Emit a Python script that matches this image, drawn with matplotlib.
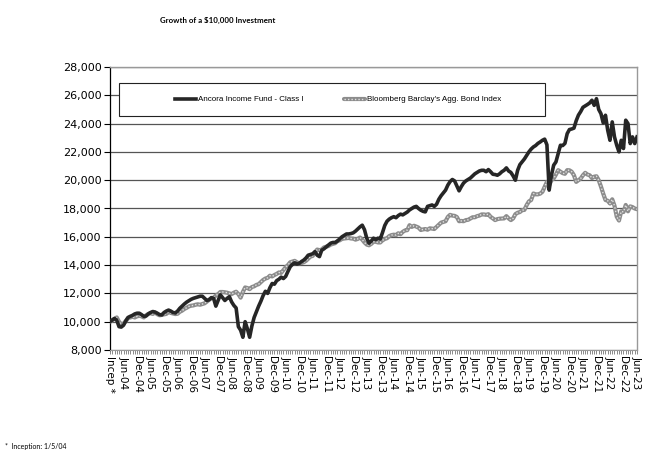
import matplotlib
matplotlib.use("Agg")
import matplotlib.pyplot as plt
from matplotlib.ticker import MultipleLocator, FuncFormatter
from matplotlib.legend_handler import HandlerTuple
from matplotlib.patches import Rectangle

title = "Growth of a \\$10,000 Investment"
footnote = "*  Inception: 1/5/04"
fund_name = "Ancora Income Fund - Class I"
bond_name = "Bloomberg Barclay's Agg. Bond Index"

# x tick labels: inception then every 6 months
tick_labels = ["Incep *"] + [f"{m}-{y:02d}" for y in range(4, 24) for m in ("Jun", "Dec")][:39]

# Monthly values: Incep, Jan-04 ... Jun-23
fund = [10000,
    10120, 10230, 10100, 9650, 9620, 9750, 10050, 10300, 10380, 10450, 10550, 10600,
    10600, 10500, 10380, 10400, 10550, 10650, 10720, 10680, 10600, 10500, 10480, 10650,
    10750, 10820, 10750, 10650, 10620, 10750, 10950, 11100, 11250, 11380, 11480, 11580,
    11650, 11700, 11750, 11800, 11800, 11650, 11500, 11550, 11700, 11650, 11100, 11500,
    11900, 11700, 11500, 11650, 11770, 11400, 11150, 10970, 9650, 9400, 8900, 10000,
    9500, 8900, 9700, 10300, 10700, 11100, 11450, 11850, 12150, 12000, 12400, 12700,
    12650, 12900, 13000, 13150, 13050, 13200, 13550, 13880, 14050, 14160, 14080, 14120,
    14250, 14350, 14500, 14700, 14750, 14800, 14950, 14700, 14600, 15050, 15150, 15280,
    15400, 15550, 15600, 15600, 15700, 15850, 16000, 16100, 16200, 16200, 16230, 16280,
    16400, 16550, 16700, 16820, 16500, 15900, 15550, 15700, 15900, 15800, 15900, 15850,
    16300, 16800, 17100, 17250, 17350, 17420, 17350, 17500, 17600, 17550, 17650, 17750,
    17900, 18000, 18100, 18150, 18000, 17880, 17800, 17760, 18150, 18200, 18250, 18150,
    18300, 18650, 18900, 19100, 19300, 19650, 19900, 20050, 19950, 19600, 19250, 19550,
    19800, 19950, 20050, 20150, 20300, 20450, 20550, 20650, 20700, 20700, 20600, 20750,
    20600, 20420, 20400, 20350, 20450, 20600, 20700, 20870, 20650, 20550, 20300, 20000,
    20700, 21100, 21300, 21500, 21750, 22000, 22200, 22350, 22450, 22600, 22700, 22820,
    22900, 22500, 19300, 20350, 21060, 21290, 21880, 22470, 22450, 22600, 23290, 23580,
    23620, 23680, 24200, 24600, 24850, 25150, 25250, 25350, 25460, 25650, 25290, 25760,
    25000, 24700, 24050, 24590, 23530, 22820, 24120, 23060, 22470, 22000, 22820, 22240,
    24240, 24000, 22590, 23060, 22590, 23060]

bond = [10000,
    10100, 10200, 10300, 10000, 9800, 9850, 10050, 10250, 10300, 10350, 10300, 10380,
    10420, 10380, 10300, 10450, 10550, 10600, 10550, 10650, 10530, 10450, 10480, 10520,
    10550, 10700, 10620, 10580, 10540, 10560, 10700, 10780, 10900, 10980, 11080, 11130,
    11150, 11200, 11230, 11200, 11250, 11300, 11420, 11550, 11650, 11700, 11850, 11950,
    12100, 12100, 12080, 12050, 12000, 11950, 12050, 12120, 11950, 11700, 12100, 12420,
    12380, 12300, 12450, 12500, 12600, 12650, 12800, 12950, 13050, 13100, 13250, 13200,
    13300, 13380, 13480, 13450, 13650, 13850, 14000, 14200, 14250, 14300, 14200, 14120,
    14150, 14200, 14300, 14450, 14600, 14650, 14900, 15100, 15050, 15100, 15250, 15300,
    15350, 15450, 15500, 15550, 15700, 15750, 15850, 15880, 15900, 15920, 15880, 15870,
    15800, 15850, 15950, 15800, 15600, 15450, 15400, 15500, 15650, 15650, 15600, 15600,
    15750, 15850, 15900, 16050, 16120, 16150, 16120, 16250, 16180, 16350, 16450, 16470,
    16820, 16700, 16780, 16720, 16650, 16480, 16520, 16550, 16500, 16600, 16580, 16550,
    16700, 16850, 17000, 17050, 17100, 17400, 17550, 17500, 17480, 17400, 17100, 17120,
    17100, 17180, 17200, 17290, 17380, 17380, 17460, 17500, 17580, 17580, 17550, 17600,
    17410, 17300, 17180, 17250, 17280, 17290, 17300, 17460, 17300, 17180, 17300, 17600,
    17700, 17750, 17880, 17900, 18240, 18500, 18600, 19060, 19000, 19000, 19050, 19180,
    19530, 19880, 19650, 20000, 20120, 20400, 20710, 20600, 20500, 20450, 20710, 20700,
    20600, 20350, 19880, 20000, 20120, 20350, 20520, 20400, 20350, 20150, 20250, 20280,
    20000, 19550, 19050, 18600, 18550, 18350, 18650, 18200, 17420, 17150, 17800, 17750,
    18250, 17800, 18150, 18100, 18000, 17950]

x = list(range(len(fund)))

W, H = 660, 467
fig = plt.figure(figsize=(6.6, 4.67), dpi=100)
ax_l, ax_b, ax_w, ax_h = 110, 117, 527, 283
ax = fig.add_axes([ax_l/W, ax_b/H, ax_w/W, ax_h/H])

ax.set_xlim(0, len(fund) - 1)
ax.set_ylim(8000, 28000)
ax.yaxis.set_major_locator(MultipleLocator(2000))
ax.yaxis.set_major_formatter(FuncFormatter(lambda v, p: f"{int(v):,}"))
ax.grid(axis="y", color="#555555", linewidth=0.9)
ax.set_axisbelow(True)

ax.set_xticks(list(range(0, len(fund), 6)))
ax.set_xticklabels(tick_labels, rotation=-90, fontsize=7.5, family="DejaVu Sans")
ax.xaxis.set_minor_locator(MultipleLocator(1))
ax.tick_params(axis="x", which="both", direction="out", length=3, width=0.6, color="#777777", pad=1)
ax.tick_params(axis="y", direction="out", length=4, width=0.8, labelsize=8, pad=2)

for s in ("top", "right"):
    ax.spines[s].set_color("#999999")
    ax.spines[s].set_linewidth(1.0)
ax.spines["bottom"].set_color("#999999")
ax.spines["left"].set_color("#000000")
ax.spines["left"].set_linewidth(0.9)

b1, = ax.plot(x, bond, color="#8c8c8c", linewidth=3.0, solid_capstyle="round", zorder=3)
b2, = ax.plot(x, bond, color="#e0e0e0", linewidth=1.0, linestyle=(0, (1, 1.5)), zorder=3.1)
f1, = ax.plot(x, fund, color="#262626", linewidth=2.6, solid_joinstyle="round", zorder=4)

# legend box (pixel coords of reference: x 119-545, y 83-116 from top)
bx0 = (119 - ax_l) / ax_w
bx1 = (545 - ax_l) / ax_w
by0 = (H - 116 - ax_b) / ax_h
by1 = (H - 83 - ax_b) / ax_h
ax.add_patch(Rectangle((bx0, by0), bx1 - bx0, by1 - by0, transform=ax.transAxes,
                       facecolor="white", edgecolor="#222222", linewidth=0.8, zorder=5))
leg = ax.legend([f1, (b1, b2)], [fund_name, bond_name], ncol=2, loc="center",
                bbox_to_anchor=((bx0 + bx1) / 2 + 0.011, (by0 + by1) / 2),
                prop={"family": "Liberation Sans", "size": 5.8}, frameon=False,
                handlelength=2.6, handletextpad=0.25, columnspacing=5.0,
                borderaxespad=0, borderpad=0,
                handler_map={tuple: HandlerTuple(ndivide=1)})
leg.set_zorder(6)

fig.text(218/W, 1 - 20/H, title, ha="center", va="center", fontsize=5.7,
         fontweight="bold", family="Lato")
fig.text(5/W, 1 - 446/H, footnote, ha="left", va="center", fontsize=5.0, family="Lato")

fig.savefig("out.png", dpi=100)
